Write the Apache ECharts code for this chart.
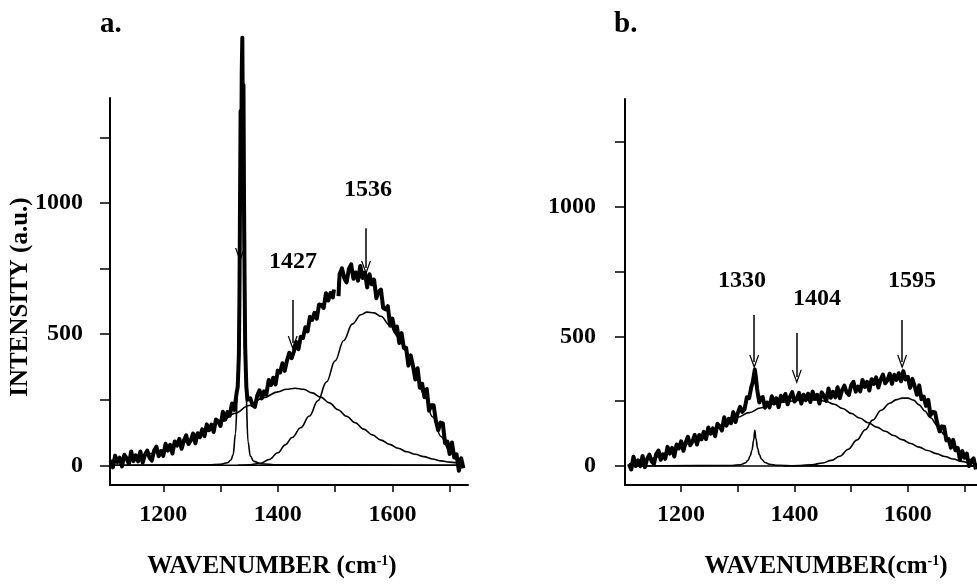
<!DOCTYPE html>
<html>
<head>
<meta charset="utf-8">
<script src="https://cdn.jsdelivr.net/npm/echarts@6/dist/echarts.min.js"></script>
<style>
html,body{margin:0;padding:0;background:#fff;}
#c{width:977px;height:585px;}
</style>
</head>
<body>
<div id="c"></div>
<script>
// ---------- DATA ----------
// Panel a: raw spectrum [wavenumber, intensity]
const rawA = [[1108,19],[1112,-8],[1116,37],[1120,12],[1124,29],[1128,-4],[1132,40],[1136,27],[1140,5],[1144,53],
[1148,16],[1152,38],[1156,15],[1160,53],[1164,10],[1168,40],[1172,56],[1176,29],[1180,18],[1184,56],
[1188,71],[1192,35],[1196,54],[1200,36],[1204,82],[1208,56],[1212,78],[1216,45],[1220,91],[1224,75],
[1228,101],[1232,63],[1236,94],[1240,114],[1244,81],[1248,95],[1252,121],[1256,84],[1260,122],[1264,107],
[1268,137],[1272,111],[1276,156],[1280,134],[1284,155],[1288,127],[1292,175],[1296,167],[1300,150],[1304,204],
[1308,174],[1312,203],[1316,189],[1320,236],[1324,211],[1328,275],[1330,300],[1332,420],[1333,650],[1334,1000],
[1335,1350],[1336,1100],[1337,1500],[1338,1630],[1339,1300],[1340,1450],[1341,1000],[1342,700],[1343,450],[1345,300],
[1347,250],[1352,255],[1356,229],[1360,223],[1364,266],[1368,286],[1372,255],[1376,282],[1380,271],[1384,325],
[1388,306],[1392,334],[1396,308],[1400,361],[1404,354],[1408,389],[1412,360],[1416,400],[1420,429],[1424,408],
[1428,433],[1432,470],[1436,443],[1440,490],[1444,485],[1448,526],[1452,510],[1456,566],[1460,554],[1464,581],
[1468,559],[1472,613],[1476,611],[1480,600],[1484,656],[1488,628],[1492,657],[1496,640],[1498,670],[1502,null],
[1506,645],[1507,700],[1508,729],[1512,751],[1516,713],[1520,697],[1524,748],[1528,766],[1532,711],[1536,735],
[1540,704],[1544,760],[1548,714],[1552,735],[1556,678],[1560,728],[1564,690],[1568,708],[1572,637],[1576,662],
[1580,670],[1584,600],[1588,594],[1592,607],[1596,532],[1600,559],[1604,512],[1608,529],[1612,466],[1616,504],
[1620,447],[1624,448],[1628,380],[1632,419],[1636,379],[1640,327],[1644,370],[1648,296],[1652,311],[1656,260],
[1660,291],[1664,208],[1668,229],[1672,229],[1676,169],[1680,134],[1684,163],[1688,160],[1692,84],[1696,90],
[1700,43],[1704,87],[1708,30],[1712,42],[1716,-21],[1720,27],[1724,-11]];
// Panel a: fitted components
const narrowA = [[1108,0],[1280,2],[1300,4],[1312,10],[1318,20],[1322,40],[1326,120],[1330,300],[1333,700],[1335,1100],
[1337,1450],[1339,1100],[1341,700],[1344,300],[1348,90],[1352,35],[1358,15],[1370,6],[1400,2],[1722,0]];
const broadA = [[1108,18],[1130,25],[1150,33],[1175,44],[1200,58],[1225,78],[1250,100],[1275,130],[1300,165],[1325,198],
[1350,228],[1375,258],[1400,280],[1415,290],[1430,294],[1445,290],[1460,276],[1475,260],[1490,238],[1505,212],
[1520,187],[1535,162],[1550,138],[1565,116],[1580,96],[1595,80],[1610,65],[1625,52],[1640,42],[1655,33],
[1670,24],[1685,17],[1700,12],[1722,6]];
const thirdA = [[1330,0],[1350,2],[1370,8],[1385,22],[1400,48],[1413,78],[1425,106],[1440,143],[1455,188],[1470,246],
[1485,318],[1500,398],[1515,476],[1530,538],[1545,574],[1556,584],[1568,581],[1580,568],[1595,535],[1610,490],
[1625,432],[1640,355],[1655,270],[1670,185],[1685,110],[1700,55],[1712,22],[1722,8]];
const baseA = [[1108,0],[1722,0]];

// Panel b: raw spectrum
const rawB = [[1108,8],[1112,-13],[1116,36],[1120,0],[1124,22],[1128,0],[1132,39],[1136,-4],[1140,27],[1144,44],
[1148,18],[1152,8],[1156,46],[1160,60],[1164,24],[1168,45],[1172,28],[1176,74],[1180,48],[1184,70],
[1188,37],[1192,83],[1196,68],[1200,95],[1204,59],[1208,91],[1212,113],[1216,80],[1220,94],[1224,120],
[1228,83],[1232,120],[1236,103],[1240,132],[1244,104],[1248,149],[1252,125],[1256,145],[1260,115],[1264,163],
[1268,154],[1272,137],[1276,188],[1280,156],[1284,182],[1288,165],[1292,208],[1296,170],[1300,205],[1304,228],
[1308,209],[1312,220],[1316,265],[1320,262],[1324,306],[1326,320],[1328,345],[1330,372],[1332,342],[1334,298],
[1336,270],[1338,245],[1340,263],[1344,266],[1348,225],[1352,245],[1356,226],[1360,269],[1364,241],[1368,261],
[1372,227],[1376,271],[1380,253],[1384,278],[1388,238],[1392,267],[1396,285],[1400,249],[1404,260],[1408,282],
[1412,241],[1416,275],[1420,254],[1424,279],[1428,247],[1432,287],[1436,260],[1440,275],[1444,241],[1448,284],
[1452,271],[1456,251],[1460,299],[1464,263],[1468,286],[1472,265],[1476,304],[1480,262],[1484,293],[1488,310],
[1492,284],[1496,274],[1500,311],[1504,325],[1508,287],[1512,306],[1516,288],[1520,332],[1524,305],[1528,325],
[1532,291],[1536,335],[1540,317],[1544,342],[1548,303],[1552,333],[1556,353],[1560,319],[1564,331],[1568,356],
[1572,317],[1576,352],[1580,332],[1584,358],[1588,327],[1592,366],[1596,334],[1600,344],[1604,302],[1608,336],
[1612,308],[1616,275],[1620,311],[1624,258],[1628,268],[1632,232],[1636,255],[1640,196],[1644,209],[1648,207],
[1652,163],[1656,134],[1660,153],[1664,152],[1668,99],[1672,104],[1676,71],[1680,101],[1684,61],[1688,70],
[1692,24],[1696,58],[1700,32],[1704,48],[1708,0],[1712,20],[1716,30],[1720,-13]];
// Panel b: fitted components
const narrowB = [[1108,0],[1290,2],[1305,5],[1313,12],[1318,22],[1322,40],[1325,62],[1328,100],[1330,138],[1332,105],
[1335,68],[1338,44],[1342,26],[1348,14],[1356,7],[1370,3],[1400,1],[1722,0]];
const broadB = [[1108,8],[1130,18],[1150,30],[1175,50],[1200,75],[1225,101],[1250,128],[1275,158],[1300,188],[1320,206],
[1340,224],[1360,238],[1380,246],[1400,252],[1420,255],[1440,255],[1455,250],[1470,238],[1485,222],[1500,203],
[1515,185],[1530,167],[1545,150],[1560,134],[1575,118],[1590,102],[1605,87],[1620,73],[1635,60],[1650,48],
[1665,37],[1680,27],[1695,18],[1710,11],[1722,6]];
const thirdB = [[1380,0],[1410,2],[1430,5],[1450,12],[1465,22],[1480,38],[1495,65],[1510,100],[1525,140],[1538,177],
[1553,215],[1568,242],[1580,256],[1590,262],[1600,262],[1610,254],[1620,236],[1630,212],[1640,186],[1652,157],
[1664,122],[1676,88],[1688,57],[1700,31],[1712,14],[1722,5]];
const baseB = [[1108,0],[1722,0]];

// Ticks and labels
const xTicks = [1200,1300,1400,1500,1600,1700];
const xLabels = [1200,1400,1600];
const yTicks = [0,250,500,750,1000,1250];
const yLabels = [0,500,1000];

// Peak annotations: [wavenumber, arrow start, arrow end]
const arrowsA = [[1334,1000,802],[1426,630,466],[1554,904,752]];
const arrowsB = [[1329,582,401],[1404,513,343],[1590,563,401]];
const peakLabelsA = ['1427','1536'];
const peakLabelsB = ['1330','1404','1595'];

// ---------- CHART ----------
const FONT = '"Liberation Serif","Times New Roman",serif';
const chart = echarts.init(document.getElementById('c'), null, {renderer:'canvas'});

function xAx(idx, min, max){
  return {type:'value', gridIndex:idx, min:min, max:max,
    axisLine:{show:true, onZero:false, lineStyle:{color:'#000', width:2}},
    axisTick:{show:true, length:7, customValues:xTicks, lineStyle:{color:'#000', width:1.5}},
    axisLabel:{show:true, customValues:xLabels, margin:18, color:'#000', fontFamily:FONT, fontWeight:'bold', fontSize:24,
      formatter:v => String(v)},
    splitLine:{show:false}};
}
function yAx(idx, min, max, margin){
  return {type:'value', gridIndex:idx, min:min, max:max,
    axisLine:{show:true, onZero:false, lineStyle:{color:'#000', width:2}},
    axisTick:{show:true, length:10, customValues:yTicks, lineStyle:{color:'#000', width:1.5}},
    axisLabel:{show:true, customValues:yLabels, margin:margin, color:'#000', fontFamily:FONT, fontWeight:'bold', fontSize:24,
      formatter:v => String(v)},
    splitLine:{show:false}};
}
function line(data, idx, w, z){
  return {type:'line', xAxisIndex:idx, yAxisIndex:idx, data:data, showSymbol:false, symbol:'none',
    smooth:false, connectNulls:false, clip:false, lineStyle:{color:'#000', width:w, join:'round'}, z:z||2, silent:true};
}
function fit(data, idx){
  const s = line(data, idx, 1.6, 3);
  s.smooth = 0.4;
  s.smoothMonotone = 'x';
  return s;
}
const chev = 'path://M5,0 L10,12 L8.7,12 L5,3.2 L1.3,12 L0,12 Z';
function arrowSeries(arr, idx){
  return {type:'line', xAxisIndex:idx, yAxisIndex:idx, data:[], silent:true,
    markLine:{silent:true, symbol:['none', chev], symbolSize:[10,14], animation:false,
      label:{show:false}, lineStyle:{color:'#000', width:1.5, type:'solid'},
      emphasis:{disabled:true},
      data: arr.map(a => [{coord:[a[0], a[1]]}, {coord:[a[0], a[2]]}])}};
}

const option = {
  backgroundColor:'#fff',
  animation:false,
  grid:[
    {left:110, top:98, width:358, height:387, containLabel:false, outerBoundsMode:'none'},
    {left:625, top:99, width:352, height:386, containLabel:false, outerBoundsMode:'none'}
  ],
  xAxis:[xAx(0,1107,1732), xAx(1,1101,1722)],
  yAxis:[yAx(0,-75,1400,27), yAx(1,-73,1415,29)],
  series:[
    line(baseA,0,1.6,3), fit(narrowA,0), fit(broadA,0), fit(thirdA,0), line(rawA,0,4,4), arrowSeries(arrowsA,0),
    line(baseB,1,1.6,3), fit(narrowB,1), fit(broadB,1), fit(thirdB,1), line(rawB,1,4,4), arrowSeries(arrowsB,1)
  ],
  graphic:[
    {type:'text', left:100, top:10, style:{text:'a.', font:'bold 29px '+FONT, fill:'#000'}},
    {type:'text', left:614, top:10, style:{text:'b.', font:'bold 29px '+FONT, fill:'#000'}},
    {type:'text', x:21, y:297, rotation:Math.PI/2,
      style:{text:'INTENSITY (a.u.)', font:'bold 25px '+FONT, fill:'#000', align:'center', verticalAlign:'middle'}},
    {type:'text', x:272, y:567, style:{text:'{n|WAVENUMBER (cm}{s|-1}{n|)}', align:'center', verticalAlign:'middle',
      rich:{n:{font:'bold 25px '+FONT, fill:'#000', lineHeight:26}, s:{font:'bold 14px '+FONT, fill:'#000', verticalAlign:'top', lineHeight:14}}}},
    {type:'text', x:826, y:567, style:{text:'{n|WAVENUMBER(cm}{s|-1}{n|)}', align:'center', verticalAlign:'middle',
      rich:{n:{font:'bold 25px '+FONT, fill:'#000', lineHeight:26}, s:{font:'bold 14px '+FONT, fill:'#000', verticalAlign:'top', lineHeight:14}}}},
    {type:'text', x:293, y:262, style:{text:peakLabelsA[0], font:'bold 24px '+FONT, fill:'#000', align:'center', verticalAlign:'middle'}},
    {type:'text', x:368, y:190, style:{text:peakLabelsA[1], font:'bold 24px '+FONT, fill:'#000', align:'center', verticalAlign:'middle'}},
    {type:'text', x:742, y:281, style:{text:peakLabelsB[0], font:'bold 24px '+FONT, fill:'#000', align:'center', verticalAlign:'middle'}},
    {type:'text', x:817, y:299, style:{text:peakLabelsB[1], font:'bold 24px '+FONT, fill:'#000', align:'center', verticalAlign:'middle'}},
    {type:'text', x:912, y:281, style:{text:peakLabelsB[2], font:'bold 24px '+FONT, fill:'#000', align:'center', verticalAlign:'middle'}}
  ]
};
chart.setOption(option);
</script>
</body>
</html>
